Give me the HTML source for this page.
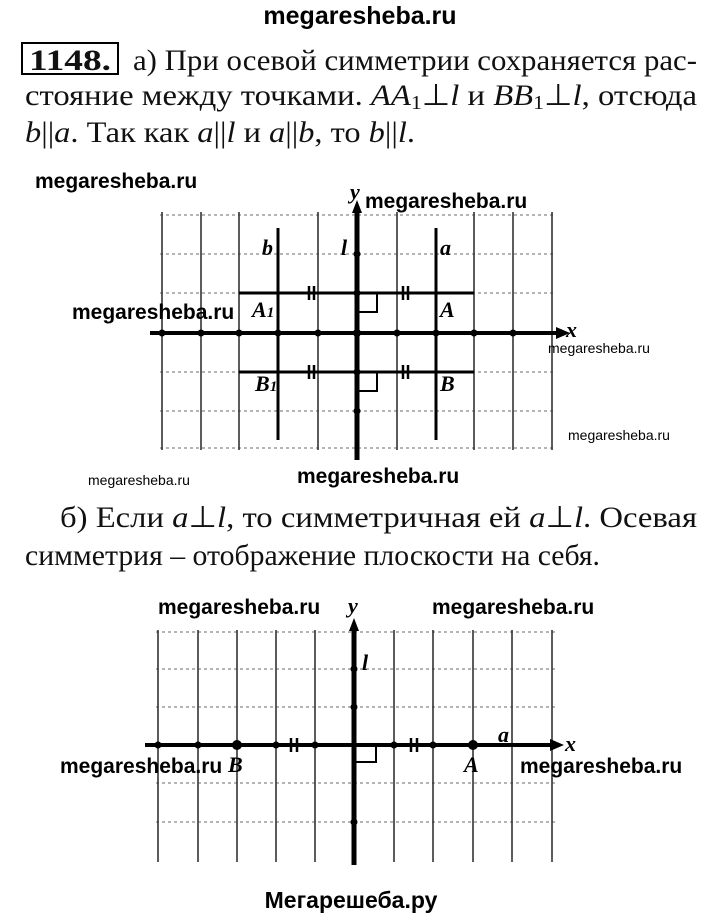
<!DOCTYPE html>
<html><head><meta charset="utf-8"><style>
html,body{margin:0;padding:0;background:#fff}
svg{display:block}
.t{font-family:"Liberation Serif",serif;font-size:30px;fill:#111}
.w{font-family:"Liberation Sans",sans-serif;font-weight:bold;fill:#000}
.ws{font-family:"Liberation Sans",sans-serif;font-size:14px;fill:#000}
.lb{font-family:"Liberation Serif",serif;font-style:italic;font-weight:bold;font-size:22px;fill:#000}
.v{stroke:#333;stroke-width:1.6}
.h{stroke:#888;stroke-width:1.2;stroke-dasharray:3 3}
</style></head><body>
<svg width="720" height="915" viewBox="0 0 720 915" xmlns="http://www.w3.org/2000/svg">
<text class="w" x="360" y="24" font-size="25" text-anchor="middle">megaresheba.ru</text>
<rect x="22" y="43" width="96" height="31" fill="none" stroke="#000" stroke-width="2"/>
<text class="t" x="29" y="70" font-weight="bold" textLength="82" lengthAdjust="spacingAndGlyphs">1148.</text>
<text class="t" x="133" y="70" textLength="564" lengthAdjust="spacingAndGlyphs">а) При осевой симметрии сохраняется рас-</text>
<text class="t" x="25" y="105" textLength="672" lengthAdjust="spacingAndGlyphs">стояние между точками. <tspan font-style="italic">AA</tspan><tspan font-size="20" dy="4">1</tspan><tspan dy="-4">⊥</tspan><tspan font-style="italic">l</tspan> и <tspan font-style="italic">BB</tspan><tspan font-size="20" dy="4">1</tspan><tspan dy="-4">⊥</tspan><tspan font-style="italic">l</tspan>, отсюда</text>
<text class="t" x="25" y="142" textLength="390" lengthAdjust="spacingAndGlyphs"><tspan font-style="italic">b</tspan>||<tspan font-style="italic">a</tspan>. Так как <tspan font-style="italic">a</tspan>||<tspan font-style="italic">l</tspan> и <tspan font-style="italic">a</tspan>||<tspan font-style="italic">b</tspan>, то <tspan font-style="italic">b</tspan>||<tspan font-style="italic">l</tspan>.</text>

<!-- diagram 1 -->
<g>
<g class="h">
<line x1="160" y1="215" x2="555" y2="215"/><line x1="160" y1="254" x2="555" y2="254"/>
<line x1="160" y1="411" x2="555" y2="411"/><line x1="160" y1="448" x2="555" y2="448"/>
<line x1="160" y1="293" x2="555" y2="293"/><line x1="160" y1="372" x2="555" y2="372"/>
</g>
<g class="v">
<line x1="162" y1="212" x2="162" y2="450"/><line x1="201" y1="212" x2="201" y2="450"/>
<line x1="239" y1="212" x2="239" y2="450"/><line x1="318" y1="212" x2="318" y2="450"/>
<line x1="397" y1="212" x2="397" y2="450"/><line x1="474" y1="212" x2="474" y2="450"/>
<line x1="513" y1="212" x2="513" y2="450"/><line x1="552" y1="212" x2="552" y2="450"/>
</g>
<line x1="278" y1="228" x2="278" y2="440" stroke="#000" stroke-width="3"/>
<line x1="436" y1="228" x2="436" y2="440" stroke="#000" stroke-width="3"/>
<line x1="239" y1="293" x2="474" y2="293" stroke="#000" stroke-width="3"/>
<line x1="239" y1="372" x2="474" y2="372" stroke="#000" stroke-width="3"/>
<line x1="150" y1="333" x2="560" y2="333" stroke="#000" stroke-width="4"/>
<polygon points="556,327 570,333 556,339" fill="#000"/>
<line x1="357" y1="212" x2="357" y2="460" stroke="#000" stroke-width="5"/>
<polygon points="352,213 357,200 362,213" fill="#000"/>
<g fill="#000">
<circle cx="162" cy="333" r="3.5"/><circle cx="201" cy="333" r="3.5"/><circle cx="239" cy="333" r="3.5"/><circle cx="278" cy="333" r="3.5"/><circle cx="318" cy="333" r="3.5"/><circle cx="357" cy="333" r="4"/><circle cx="397" cy="333" r="3.5"/><circle cx="436" cy="333" r="3.5"/><circle cx="474" cy="333" r="3.5"/><circle cx="513" cy="333" r="3.5"/>
<circle cx="357" cy="254" r="3.5"/><circle cx="357" cy="293" r="3.5"/><circle cx="357" cy="372" r="3.5"/><circle cx="357" cy="411" r="3.5"/>
</g>
<g stroke="#000" stroke-width="2.5">
<line x1="309" y1="286" x2="309" y2="300"/><line x1="314" y1="286" x2="314" y2="300"/>
<line x1="403" y1="286" x2="403" y2="300"/><line x1="408" y1="286" x2="408" y2="300"/>
<line x1="309" y1="365" x2="309" y2="379"/><line x1="314" y1="365" x2="314" y2="379"/>
<line x1="403" y1="365" x2="403" y2="379"/><line x1="408" y1="365" x2="408" y2="379"/>
</g>
<polyline points="357,312 377,312 377,293" fill="none" stroke="#000" stroke-width="2"/>
<polyline points="357,391 377,391 377,372" fill="none" stroke="#000" stroke-width="2"/>
<text class="lb" x="262" y="255">b</text><text class="lb" x="341" y="255">l</text><text class="lb" x="440" y="255">a</text>
<text class="lb" x="252" y="317">A<tspan font-size="15">1</tspan></text><text class="lb" x="440" y="317">A</text>
<text class="lb" x="255" y="391">B<tspan font-size="15">1</tspan></text><text class="lb" x="440" y="391">B</text>
<text class="lb" x="350" y="199" font-size="17">y</text><text class="lb" x="566" y="337" font-size="17">x</text>
</g>

<text class="t" x="60" y="527" textLength="637" lengthAdjust="spacingAndGlyphs">б) Если <tspan font-style="italic">a</tspan>⊥<tspan font-style="italic">l</tspan>, то симметричная ей <tspan font-style="italic">a</tspan>⊥<tspan font-style="italic">l</tspan>. Осевая</text>
<text class="t" x="25" y="565" textLength="575" lengthAdjust="spacingAndGlyphs">симметрия – отображение плоскости на себя.</text>

<!-- diagram 2 -->
<g>
<g class="h">
<line x1="156" y1="632" x2="555" y2="632"/><line x1="156" y1="669" x2="555" y2="669"/>
<line x1="156" y1="707" x2="555" y2="707"/><line x1="156" y1="783" x2="555" y2="783"/>
<line x1="156" y1="822" x2="555" y2="822"/>
</g>
<g class="v">
<line x1="158" y1="630" x2="158" y2="862"/><line x1="198" y1="630" x2="198" y2="862"/>
<line x1="237" y1="630" x2="237" y2="862"/><line x1="276" y1="630" x2="276" y2="862"/>
<line x1="315" y1="630" x2="315" y2="862"/><line x1="394" y1="630" x2="394" y2="862"/>
<line x1="433" y1="630" x2="433" y2="862"/><line x1="473" y1="630" x2="473" y2="862"/>
<line x1="512" y1="630" x2="512" y2="862"/><line x1="552" y1="630" x2="552" y2="862"/>
</g>
<line x1="145" y1="745" x2="552" y2="745" stroke="#000" stroke-width="4"/>
<polygon points="550,739 564,745 550,751" fill="#000"/>
<line x1="354" y1="630" x2="354" y2="865" stroke="#000" stroke-width="5"/>
<polygon points="349,631 354,618 359,631" fill="#000"/>
<g fill="#000">
<circle cx="158" cy="745" r="3.5"/><circle cx="198" cy="745" r="3.5"/><circle cx="237" cy="745" r="5"/><circle cx="276" cy="745" r="3.5"/><circle cx="315" cy="745" r="3.5"/><circle cx="394" cy="745" r="3.5"/><circle cx="433" cy="745" r="3.5"/><circle cx="473" cy="745" r="5"/>
<circle cx="354" cy="669" r="3.5"/><circle cx="354" cy="707" r="3.5"/><circle cx="354" cy="822" r="3.5"/>
</g>
<g stroke="#000" stroke-width="2.5">
<line x1="291" y1="738" x2="291" y2="752"/><line x1="297" y1="738" x2="297" y2="752"/>
<line x1="411" y1="738" x2="411" y2="752"/><line x1="417" y1="738" x2="417" y2="752"/>
</g>
<polyline points="356,762 376,762 376,745" fill="none" stroke="#000" stroke-width="2"/>
<text class="lb" x="362" y="670">l</text><text class="lb" x="498" y="742">a</text>
<text class="lb" x="228" y="772">B</text><text class="lb" x="464" y="772">A</text>
<text class="lb" x="348" y="613" font-size="17">y</text><text class="lb" x="565" y="751" font-size="17">x</text>
</g>

<!-- watermarks -->
<text class="w" x="35" y="188" font-size="21">megaresheba.ru</text>
<text class="w" x="365" y="208" font-size="21">megaresheba.ru</text>
<text class="w" x="72" y="319" font-size="21">megaresheba.ru</text>
<text class="ws" x="548" y="353">megaresheba.ru</text>
<text class="ws" x="568" y="440">megaresheba.ru</text>
<text class="ws" x="88" y="485">megaresheba.ru</text>
<text class="w" x="297" y="483" font-size="21">megaresheba.ru</text>
<text class="w" x="158" y="614" font-size="21">megaresheba.ru</text>
<text class="w" x="432" y="614" font-size="21">megaresheba.ru</text>
<text class="w" x="60" y="773" font-size="21">megaresheba.ru</text>
<text class="w" x="520" y="773" font-size="21">megaresheba.ru</text>
<text class="w" x="351" y="908" font-size="23" text-anchor="middle">Мегарешеба.ру</text>
</svg>
</body></html>
